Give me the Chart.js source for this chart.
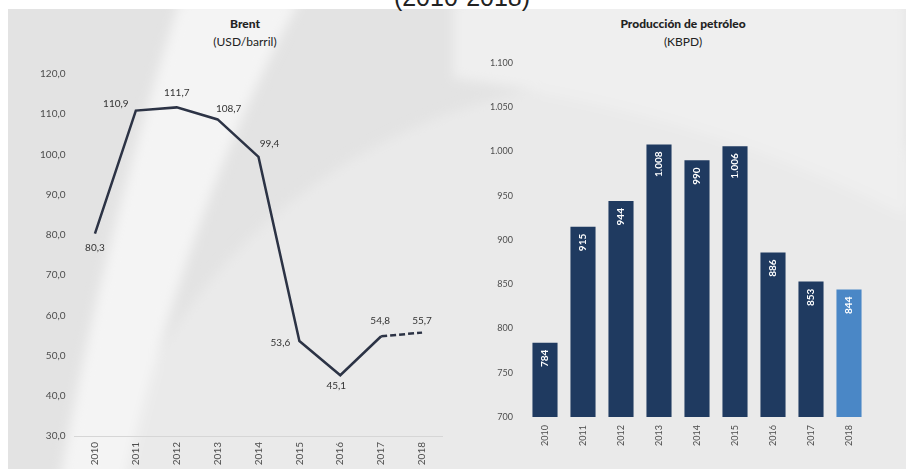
<!DOCTYPE html>
<html><head><meta charset="utf-8">
<script src="https://cdn.jsdelivr.net/npm/chart.js@4"></script>
<style>
html,body{margin:0;padding:0;background:#fff;}
#wrap{position:relative;width:906px;height:469px;overflow:hidden;}
#bg{position:absolute;left:0;top:0;}
.ttl{position:absolute;text-align:center;color:#222;font-family:Lato,"Open Sans",sans-serif;font-size:12px;line-height:18px;}
.ttl b{font-weight:900;}
#head{position:absolute;left:0;width:924px;top:-15px;text-align:center;font-family:"Liberation Sans",Arial,sans-serif;font-size:25px;line-height:25px;color:#222;}
canvas{position:absolute;top:0;}
</style></head>
<body>
<div id="wrap">
<svg id="bg" width="906" height="469">
  <defs>
    <clipPath id="cp"><rect x="8" y="9" width="898" height="460"/></clipPath>
    <filter id="bl" x="-20%" y="-20%" width="140%" height="140%"><feGaussianBlur stdDeviation="6"/></filter>
  </defs>
  <g clip-path="url(#cp)">
    <rect x="8" y="9" width="898" height="460" fill="#e3e3e3"/>
    <g filter="url(#bl)">
      <circle cx="640" cy="640" r="560" fill="#eaeaea"/>
      <path d="M453,0 L906,0 L906,215 Q700,110 453,78 Z" fill="#efefef"/>
      <path d="M180,0 L300,0 Q190,200 125,480 L60,480 Q100,250 180,0 Z" fill="#f4f4f4"/>
    </g>
  </g>
</svg>
<div id="head">(2010-2018)</div>
<div class="ttl" style="left:145px;width:200px;top:15px;"><b>Brent</b><br>(USD/barril)</div>
<div class="ttl" style="left:583px;width:200px;top:15px;"><b>Producción de petróleo</b><br>(KBPD)</div>
<canvas id="c1" width="453" height="469" style="left:0"></canvas>
<canvas id="c2" width="453" height="469" style="left:453px"></canvas>
</div>
<script>
// ---- data ----
const years = ['2010','2011','2012','2013','2014','2015','2016','2017','2018'];
const brent = [80.3, 110.9, 111.7, 108.7, 99.4, 53.6, 45.1, 54.8, 55.7];
const brentTicks = [30, 40, 50, 60, 70, 80, 90, 100, 110, 120];
const production = [784, 915, 944, 1008, 990, 1006, 886, 853, 844];
const productionTicks = [700, 750, 800, 850, 900, 950, 1000, 1050, 1100];

// ---- styles ----
const brentLabelOffsets = [[0,14],[-20,-7],[0,-15],[11,-11],[11,-13],[-19,2],[-4,11],[-1,-15],[0,-12]];
const barColors = ['#1f3a60','#1f3a60','#1f3a60','#1f3a60','#1f3a60','#1f3a60','#1f3a60','#1f3a60','#4a87c6'];
const tickFont = {family:'Lato, "Open Sans", sans-serif', size:10};
const tickColor = '#4d4d4d';

const fmtComma = v => Number(v).toFixed(1).replace('.', ',');
const fmtThousand = v => {
  const s = String(Math.round(v));
  return s.length > 3 ? s.slice(0, s.length-3) + '.' + s.slice(-3) : s;
};

const lineLabels = {
  id:'lineLabels',
  afterDatasetsDraw(chart){
    const ctx = chart.ctx;
    const meta = chart.getDatasetMeta(0);
    ctx.save();
    ctx.font = '10px Lato, "Open Sans", sans-serif';
    ctx.fillStyle = '#333';
    ctx.textAlign = 'center';
    ctx.textBaseline = 'middle';
    meta.data.forEach((pt, i) => {
      const o = brentLabelOffsets[i];
      ctx.fillText(fmtComma(brent[i]), pt.x + o[0], pt.y + o[1]);
    });
    ctx.restore();
  }
};

const barLabels = {
  id:'barLabels',
  afterDatasetsDraw(chart){
    const ctx = chart.ctx;
    const meta = chart.getDatasetMeta(0);
    ctx.save();
    ctx.font = 'bold 10px Lato, "Open Sans", sans-serif';
    ctx.fillStyle = '#ffffff';
    ctx.textAlign = 'right';
    ctx.textBaseline = 'middle';
    meta.data.forEach((bar, i) => {
      ctx.save();
      ctx.translate(bar.x, bar.y + 7);
      ctx.rotate(-Math.PI/2);
      ctx.fillText(fmtThousand(production[i]), 0, 0);
      ctx.restore();
    });
    ctx.restore();
  }
};

new Chart(document.getElementById('c1'), {
  type:'line',
  data:{labels:years, datasets:[{
    data:brent, borderColor:'#2c3345', borderWidth:2.5, pointRadius:0, tension:0,
    segment:{borderDash: c => c.p1DataIndex === 8 ? [6,3] : undefined}
  }]},
  options:{
    responsive:false, animation:false,
    layout:{padding:{top:74, right:10.5, bottom:0, left:0}},
    plugins:{legend:{display:false}, tooltip:{enabled:false}},
    scales:{
      x:{offset:true, grid:{display:false, drawTicks:false},
         border:{display:true, color:'#d6d6d6', width:1},
         ticks:{autoSkip:false, minRotation:90, maxRotation:90, padding:6, font:tickFont, color:tickColor},
         afterFit: s => { s.height = 33; }},
      y:{min:30, max:120, grid:{display:false, drawTicks:false}, border:{display:false},
         afterBuildTicks: s => { s.ticks = brentTicks.map(v => ({value:v})); },
         ticks:{padding:9, font:tickFont, color:tickColor, callback: v => fmtComma(v)},
         afterFit: s => { s.width = 74.5; }}
    }
  },
  plugins:[lineLabels]
});

new Chart(document.getElementById('c2'), {
  type:'bar',
  data:{labels:years, datasets:[{
    data:production, backgroundColor:barColors, borderWidth:0,
    categoryPercentage:1, barPercentage:0.66
  }]},
  options:{
    responsive:false, animation:false,
    layout:{padding:{top:63, right:38, bottom:0, left:0}},
    plugins:{legend:{display:false}, tooltip:{enabled:false}},
    scales:{
      x:{grid:{display:false, drawTicks:false}, border:{display:false},
         ticks:{autoSkip:false, minRotation:90, maxRotation:90, padding:8, font:{family:tickFont.family,size:9}, color:tickColor},
         afterFit: s => { s.height = 52; }},
      y:{min:700, max:1100, grid:{display:false, drawTicks:false}, border:{display:false},
         afterBuildTicks: s => { s.ticks = productionTicks.map(v => ({value:v})); },
         ticks:{padding:13, font:{family:tickFont.family,size:9}, color:tickColor, callback: v => fmtThousand(v)},
         afterFit: s => { s.width = 73; }}
    }
  },
  plugins:[barLabels]
});
</script>
</body></html>
